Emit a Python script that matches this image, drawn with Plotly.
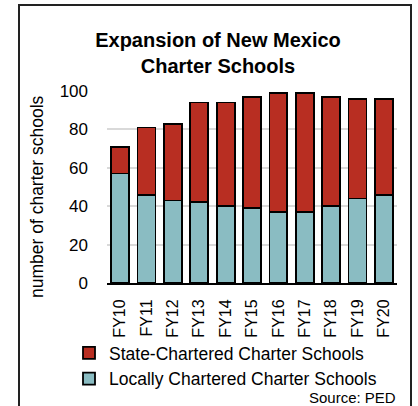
import plotly.graph_objects as go

years = ["FY10", "FY11", "FY12", "FY13", "FY14", "FY15", "FY16", "FY17", "FY18", "FY19", "FY20"]
local_chartered = [57, 46, 43, 42, 40, 39, 37, 37, 40, 44, 46]
state_chartered = [14, 35, 40, 52, 54, 58, 62, 62, 57, 52, 50]
y_ticks = [0, 20, 40, 60, 80, 100]

FONT = "Liberation Sans, Arial, sans-serif"
RED = "#B82E22"
TEAL = "#8ABCC2"

# plot area in pixels
PL, PR, PT, PB = 107, 397, 91, 283
PW, PH = PR - PL, PB - PT

fig = go.Figure()
fig.add_trace(go.Bar(
    x=years, y=local_chartered, name="Locally Chartered Charter Schools",
    marker=dict(color=TEAL, line=dict(color="black", width=1.8)),
    legendgroup="local", legendrank=2,
))
fig.add_trace(go.Bar(
    x=years, y=state_chartered, name="State-Chartered Charter Schools",
    marker=dict(color=RED, line=dict(color="black", width=1.8)),
    legendgroup="state", legendrank=1,
))

fig.update_layout(
    width=418, height=406,
    margin=dict(l=PL, r=418 - PR, t=PT, b=406 - PB, autoexpand=False),
    barmode="stack", bargap=0.32,
    paper_bgcolor="white", plot_bgcolor="white",
    font=dict(family=FONT, size=15, color="black"),
    title=dict(
        text="<b>Expansion of New Mexico<br>Charter Schools</b>",
        x=218 / 418, xanchor="center", xref="container",
        y=1 - 47 / 406, yanchor="top", yref="container",
        font=dict(family=FONT, size=20, color="black"),
    ),
    showlegend=True,
    legend=dict(
        xref="container", yref="container",
        x=69 / 418, y=1 - 335 / 406, xanchor="left", yanchor="top",
        traceorder="grouped", tracegroupgap=0,
        font=dict(family=FONT, size=17.5),
        bgcolor="rgba(0,0,0,0)",
    ),
    xaxis=dict(
        tickangle=-90, showgrid=False, showline=True, linecolor="black", linewidth=2,
        ticks="", ticklabelstandoff=8, tickfont=dict(size=16),
    ),
    yaxis=dict(
        range=[0, 100], tickvals=y_ticks, showgrid=True, gridcolor="#D9D9D9", gridwidth=1.5,
        zeroline=False, showline=False, ticks="", ticklabelstandoff=18,
        tickfont=dict(size=17),
    ),
    annotations=[
        dict(
            text="number of charter schools", textangle=-90,
            xref="paper", yref="paper",
            x=(37 - PL) / PW, y=(PB - 197) / PH, xanchor="center", yanchor="middle",
            showarrow=False, font=dict(family=FONT, size=17.5),
        ),
        dict(
            text="Source: PED", xref="paper", yref="paper",
            x=(398 - PL) / PW, y=(PB - 397) / PH, xanchor="right", yanchor="middle",
            showarrow=False, font=dict(family=FONT, size=15),
        ),
    ],
    shapes=[dict(
        type="rect", xref="paper", yref="paper",
        x0=(19 - PL) / PW, x1=(411 - PL) / PW,
        y0=-1.0, y1=(PB - 5) / PH,
        line=dict(color="#222222", width=2), layer="above",
    )],
)

fig.write_html("out.html")
